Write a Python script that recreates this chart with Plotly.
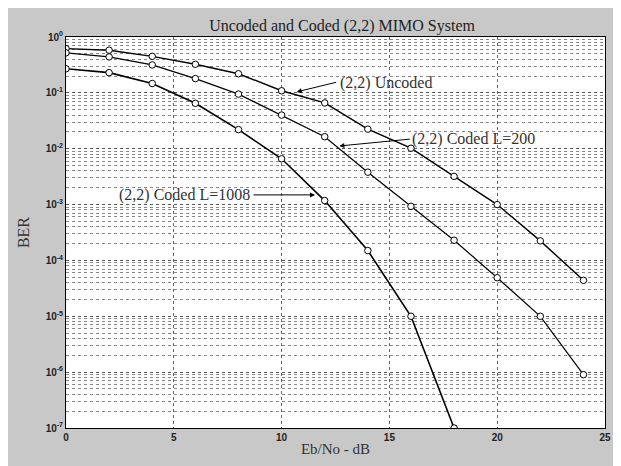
import math
import plotly.graph_objects as go

# ---------------- data ----------------
ebno = [0, 2, 4, 6, 8, 10, 12, 14, 16, 18, 20, 22, 24]
ber_uncoded = [0.62, 0.58, 0.45, 0.325, 0.22, 0.109, 0.066, 0.0224, 0.0102, 0.0032, 0.001, 0.000224, 4.4e-5]
ber_coded200 = [0.52, 0.44, 0.316, 0.18, 0.095, 0.040, 0.0164, 0.0038, 0.00093, 0.00023, 4.9e-5, 1.0e-5, 9.0e-7]
ebno_1008 = [0, 2, 4, 6, 8, 10, 12, 14, 16, 18]
ber_coded1008 = [0.27, 0.23, 0.147, 0.065, 0.022, 0.0066, 0.00118, 1.5e-4, 1.0e-5, 1.0e-7]

ytick_vals = [1, 1e-1, 1e-2, 1e-3, 1e-4, 1e-5, 1e-6, 1e-7]
ytick_text = ["10<sup>0</sup>", "10<sup>-1</sup>", "10<sup>-2</sup>", "10<sup>-3</sup>",
              "10<sup>-4</sup>", "10<sup>-5</sup>", "10<sup>-6</sup>", "10<sup>-7</sup>"]
xtick_vals = [0, 5, 10, 15, 20, 25]

labels = ["(2,2) Uncoded", "(2,2) Coded L=200", "(2,2) Coded L=1008"]

SERIF = "Liberation Serif, Times New Roman, serif"
SANS = "Liberation Sans, Arial, sans-serif"

fig = go.Figure()

def add_curve(x, y, w):
    fig.add_trace(go.Scatter(
        x=x, y=y, mode="lines+markers",
        line=dict(color="black", width=w),
        marker=dict(symbol="circle", size=6.5, color="white",
                    line=dict(color="black", width=1)),
        showlegend=False))

add_curve(ebno, ber_uncoded, 1.4)
add_curve(ebno, ber_coded200, 1.2)
add_curve(ebno_1008, ber_coded1008, 1.6)

def lg(v):
    return math.log10(v)

# annotations: text + arrows (arrow heads on the curves)
ann = []
# Uncoded
ann.append(dict(x=10.7, y=lg(0.104), ax=41, ay=-10, text="", showarrow=True,
                arrowhead=2, arrowsize=1, arrowwidth=1, arrowcolor="black"))
ann.append(dict(x=12.6, y=lg(0.148), text=labels[0], showarrow=False, xanchor="left",
                font=dict(family=SERIF, size=16, color="#333")))
# L=200
ann.append(dict(x=12.68, y=lg(0.0112), ax=72, ay=-7, text="", showarrow=True,
                arrowhead=2, arrowsize=1, arrowwidth=1, arrowcolor="black"))
ann.append(dict(x=15.95, y=lg(0.0152), text=labels[1], showarrow=False, xanchor="left",
                font=dict(family=SERIF, size=16, color="#333")))
# L=1008
ann.append(dict(x=11.55, y=lg(0.00149), ax=-63, ay=0, text="", showarrow=True,
                arrowhead=2, arrowsize=1, arrowwidth=1, arrowcolor="black"))
ann.append(dict(x=8.65, y=lg(0.00149), text=labels[2], showarrow=False, xanchor="right",
                font=dict(family=SERIF, size=16, color="#333")))

fig.update_layout(annotations=ann)

# the page body margin (8px) provides the white strips at top/left
fig.update_layout(
    width=613, height=458,
    margin=dict(l=58, r=10, t=29, b=38),
    paper_bgcolor="#c8c8c8",
    plot_bgcolor="white",
    title=dict(text="Uncoded and Coded (2,2) MIMO System", x=0.545, xanchor="center",
               y=0.961, yanchor="middle",
               font=dict(family=SERIF, size=16, color="#222")),
)

fig.update_xaxes(
    range=[0, 25], tickvals=xtick_vals, ticktext=[str(v) for v in xtick_vals],
    showline=True, mirror=True, linecolor="black", linewidth=1,
    showgrid=True, gridcolor="#666", griddash="dot", gridwidth=1,
    zeroline=False, ticks="",
    tickfont=dict(family=SANS, size=10, color="#222", weight="bold"),
    title=dict(text="Eb/No - dB", font=dict(family=SERIF, size=15, color="#333"), standoff=1),
)
fig.update_yaxes(
    type="log", range=[-7, 0], tickvals=ytick_vals, ticktext=ytick_text,
    showline=True, mirror=True, linecolor="black", linewidth=1,
    showgrid=True, gridcolor="#555", griddash="dot", gridwidth=1,
    zeroline=False, ticks="",
    minor=dict(dtick="D1", showgrid=True, gridcolor="#888", griddash="dot", gridwidth=1, ticks=""),
    tickfont=dict(family=SANS, size=10, color="#222", weight="bold"),
    title=dict(text="BER", font=dict(family=SERIF, size=16, color="#333"), standoff=12),
)

fig.write_html("out.html")
